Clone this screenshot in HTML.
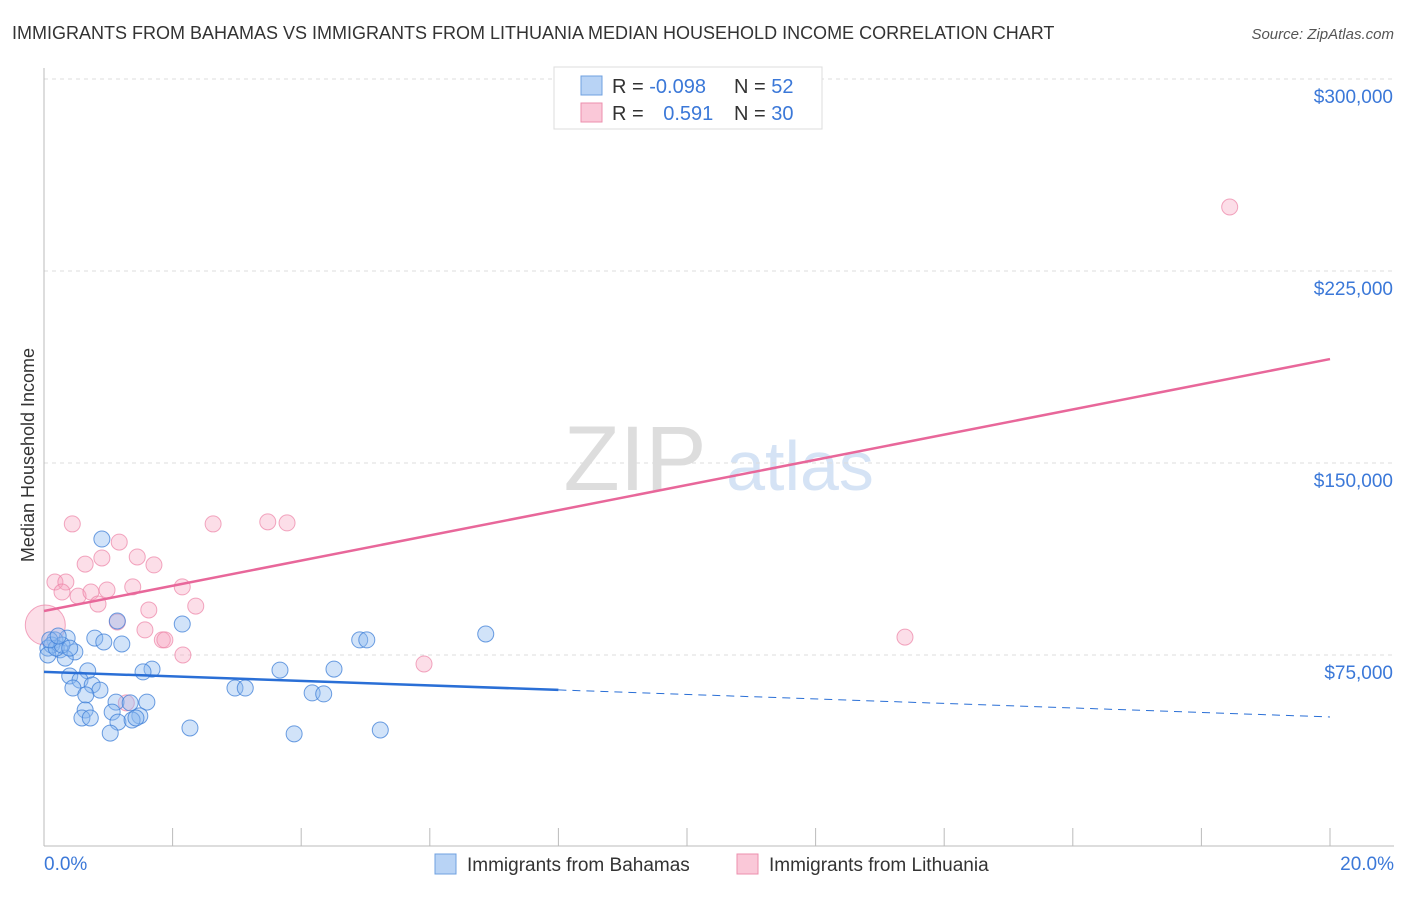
<!DOCTYPE html>
<html><head><meta charset="utf-8"><style>
body{margin:0;background:#fff;font-family:"Liberation Sans",sans-serif;}
svg text{font-family:"Liberation Sans",sans-serif;}
</style></head><body>
<svg id="c" width="1406" height="892" xmlns="http://www.w3.org/2000/svg">
<text x="12" y="39" font-size="18" fill="#333">IMMIGRANTS FROM BAHAMAS VS IMMIGRANTS FROM LITHUANIA MEDIAN HOUSEHOLD INCOME CORRELATION CHART</text>
<text x="1394" y="39" font-size="15" fill="#555" font-style="italic" text-anchor="end">Source: ZipAtlas.com</text>
<text x="34" y="455" font-size="18" fill="#333" transform="rotate(-90 34 455)" text-anchor="middle">Median Household Income</text>
<g><text x="635" y="490" font-size="92" fill="#ddd" font-family="Liberation Serif" text-anchor="middle">ZIP</text><text x="800" y="490" font-size="70" fill="#d5e3f5" text-anchor="middle">atlas</text></g>
<g id="grid"></g><g id="axes"></g><g id="marks"></g>
<g>
<rect x="554" y="67" width="268" height="62" fill="#fff" stroke="#ddd"/>
<rect x="581" y="76" width="21" height="19" fill="#b8d3f5" stroke="#6fa0e0"/>
<rect x="581" y="103" width="21" height="19" fill="#fac8d8" stroke="#ec8fae"/>
<text x="612" y="93" font-size="20" fill="#333">R = <tspan fill="#3b78d8">-0.098</tspan></text>
<text x="734" y="93" font-size="20" fill="#333">N = <tspan fill="#3b78d8">52</tspan></text>
<text x="612" y="120" font-size="20" fill="#333">R = <tspan fill="#3b78d8" dx="14">0.591</tspan></text>
<text x="734" y="120" font-size="20" fill="#333">N = <tspan fill="#3b78d8">30</tspan></text>
</g>
<g>
<rect x="435" y="854" width="21" height="20" fill="#b8d3f5" stroke="#6fa0e0"/>
<text x="467" y="871" font-size="19" fill="#333">Immigrants from Bahamas</text>
<rect x="737" y="854" width="21" height="20" fill="#fac8d8" stroke="#ec8fae"/>
<text x="769" y="871" font-size="19" fill="#333">Immigrants from Lithuania</text>
</g>
</svg>
<script>
const yTicks=[75000,150000,225000,300000];
const yTickLabels=["$75,000","$150,000","$225,000","$300,000"];
const xTickLabels=["0.0%","20.0%"];
const bahX=[0.90,1.14,2.15,0.79,0.93,1.21,0.36,0.17,0.06,0.25,0.12,0.48,0.33,0.68,1.68,1.54,3.67,4.51,0.40,0.56,0.75,0.45,0.87,0.65,2.97,3.13,4.17,4.35,4.91,5.02,6.87,1.12,1.34,1.60,0.64,1.06,1.49,0.59,0.72,1.15,1.37,1.43,2.27,1.03,3.89,5.23,0.06,0.19,0.28,0.40,0.09,0.22];
const bahY=[120300,88300,87100,81600,80100,79300,81600,80900,77700,77000,78900,76200,73800,68800,69500,68400,69100,69500,66800,65200,63300,62100,61300,59400,62100,62100,60200,59800,80900,80900,83200,56600,56300,56600,53500,52700,51200,50400,50400,48800,49600,50400,46500,44500,44200,45700,75000,77700,78900,77700,80900,82400];
const litX=[18.44,0.44,2.63,3.48,3.78,1.17,0.90,1.45,0.64,1.71,0.17,0.34,0.28,0.53,0.73,0.98,1.38,2.15,0.84,2.36,1.63,1.14,1.57,1.84,1.88,2.16,13.39,5.91,1.28,0.02];
const litY=[250000,126200,126200,127000,126600,119100,112900,113300,110500,110200,103500,103500,99600,98000,99600,100400,101600,101600,94900,94100,92600,87900,84800,80900,80900,75000,82000,71500,56300,86700];
const litR=[8,8,8,8,8,8,8,8,8,8,8,8,8,8,8,8,8,8,8,8,8,8,8,8,8,8,8,8,8,20];
const bahTrend=[68400,50800];
const litTrend=[92200,190600];
const NS="http://www.w3.org/2000/svg";
const X=v=>44+v/20*1286;
const Y=v=>655-(v-75000)/75000*192;
function el(t,a,p){const e=document.createElementNS(NS,t);for(const k in a)e.setAttribute(k,a[k]);document.getElementById(p).appendChild(e);return e;}
yTicks.forEach((v,i)=>{
 const g=el('line',{x1:44,x2:1394,y1:Y(v),y2:Y(v),stroke:'#ddd','stroke-dasharray':'4,4'},'grid');
 
 
 const t=el('text',{x:1393,y:Y(v)+24,'font-size':19,fill:'#3b78d8','text-anchor':'end'},'axes');
 t.textContent=yTickLabels[i];
 
 
});
const ax=el('line',{x1:44,x2:44,y1:68,y2:846,stroke:'#bbb'},'axes');


const bx=el('line',{x1:44,x2:1394,y1:846,y2:846,stroke:'#bbb'},'axes');


for(let i=0;i<=10;i++){const t=el('line',{x1:X(i*2),x2:X(i*2),y1:828,y2:846,stroke:'#bbb'},'axes');
 
 }
[[0,'start',44],[20,'end',1394]].forEach((d,i)=>{const t=el('text',{x:d[2],y:870,'font-size':19,fill:'#3b78d8','text-anchor':d[1]},'axes');t.textContent=xTickLabels[i];
 
 });
litX.forEach((x,i)=>{const c=el('circle',{cx:X(x),cy:Y(litY[i]),r:litR[i],fill:'rgba(245,160,190,0.35)',stroke:'rgba(236,130,165,0.7)','stroke-width':1},'marks');
 
 });
bahX.forEach((x,i)=>{const c=el('circle',{cx:X(x),cy:Y(bahY[i]),r:8,fill:'rgba(140,185,240,0.4)',stroke:'rgba(60,125,215,0.75)','stroke-width':1},'marks');
 
 });
const bv=x=>bahTrend[0]+(bahTrend[1]-bahTrend[0])*x/20;
const l1=el('line',{x1:X(0),y1:Y(bv(0)),x2:X(8),y2:Y(bv(8)),stroke:'#2a6fd6','stroke-width':2.5},'marks');


const l2=el('line',{x1:X(8),y1:Y(bv(8)),x2:X(20),y2:Y(bv(20)),stroke:'#2a6fd6','stroke-width':1,'stroke-dasharray':'8,6'},'marks');


const l3=el('line',{x1:X(0),y1:Y(litTrend[0]),x2:X(20),y2:Y(litTrend[1]),stroke:'#e8679a','stroke-width':2.5},'marks');


</script>
</body></html>
